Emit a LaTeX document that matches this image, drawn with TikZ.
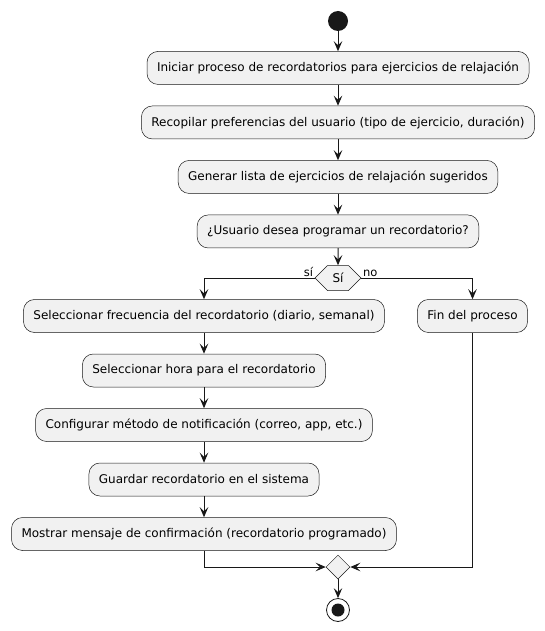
\documentclass[tikz,border=0pt]{standalone}
\usepackage{fontspec}
\setmainfont{DejaVu Sans}
\usetikzlibrary{arrows.meta, calc, positioning, shapes.geometric, shapes.symbols}

\definecolor{boxfill}{HTML}{F1F1F1}
\definecolor{linecol}{HTML}{181818}

\begin{document}
\begin{tikzpicture}[x=1pt, y=-1pt, >={Stealth[length=10pt,width=8.5pt,inset=4pt]}, node distance=21pt,
	action/.style={draw=linecol, fill=boxfill, line width=0.5pt, rounded corners=11pt,
		minimum height=33pt, inner xsep=10pt, font=\fontsize{12}{14}\selectfont},
	flow/.style={->, draw=linecol, line width=1pt},
	lbl/.style={font=\fontsize{11.5}{13}\selectfont, inner sep=1.5pt}]
	
	\useasboundingbox (0,0) rectangle (545,631);
	
	% --- 1. START AND MAIN COLUMN ---
	\node[circle, fill=linecol, minimum size=20pt, inner sep=0pt] (start) at (338,21) {};
	\node[action, below=20pt of start] (iniciar) {Iniciar proceso de recordatorios para ejercicios de relajación};
	\node[action, below=of iniciar] (recopilar) {Recopilar preferencias del usuario (tipo de ejercicio, duración)};
	\node[action, below=of recopilar] (generar) {Generar lista de ejercicios de relajación sugeridos};
	\node[action, below=of generar] (pregunta) {¿Usuario desea programar un recordatorio?};
	
	% The decision (hexagon)
	\node[signal, signal to=east and west, draw=linecol, fill=boxfill, line width=0.5pt,
		minimum width=46pt, minimum height=25pt, inner sep=0pt, font=\fontsize{12}{14}\selectfont]
		(decision) at (338,278) {Sí};
	\node[lbl, anchor=south east] (si) at (decision.west) {sí};
	\node[lbl, anchor=south west] (no) at (decision.east) {no};
	
	% --- 2. LEFT BRANCH (sí) ---
	\node[action] (frecuencia) at (204,316) {Seleccionar frecuencia del recordatorio (diario, semanal)};
	\node[action, below=of frecuencia] (hora) {Seleccionar hora para el recordatorio};
	\node[action, below=of hora] (metodo) {Configurar método de notificación (correo, app, etc.)};
	\node[action, below=of metodo] (guardar) {Guardar recordatorio en el sistema};
	\node[action, below=of guardar] (mostrar) {Mostrar mensaje de confirmación (recordatorio programado)};
	
	% --- 3. RIGHT BRANCH (no) ---
	\node[action] (fin) at (472.5,316) {Fin del proceso};
	
	% --- 4. MERGE AND STOP ---
	\node[diamond, draw=linecol, fill=boxfill, line width=0.5pt, minimum size=24pt, inner sep=0pt] (merge) at (338,567) {};
	\node[circle, draw=linecol, fill=white, line width=0.8pt, minimum size=23pt, inner sep=0pt] (stop) at (338,610) {};
	\node[circle, fill=linecol, minimum size=13pt, inner sep=0pt] (stopdot) at (stop) {};
	
	% Connectors
	\draw[flow] (start) -- (iniciar);
	\draw[flow] (iniciar) -- (recopilar);
	\draw[flow] (recopilar) -- (generar);
	\draw[flow] (generar) -- (pregunta);
	\draw[flow] (pregunta) -- (decision);
	\draw[flow] (decision.west) -| (frecuencia.north);
	\draw[flow] (decision.east) -| (fin.north);
	\draw[flow] (frecuencia) -- (hora);
	\draw[flow] (hora) -- (metodo);
	\draw[flow] (metodo) -- (guardar);
	\draw[flow] (guardar) -- (mostrar);
	\draw[flow] (mostrar.south) |- (merge.west);
	\draw[flow] (fin.south) |- (merge.east);
	\draw[flow] (merge) -- (stop);
	
\end{tikzpicture}
\end{document}
